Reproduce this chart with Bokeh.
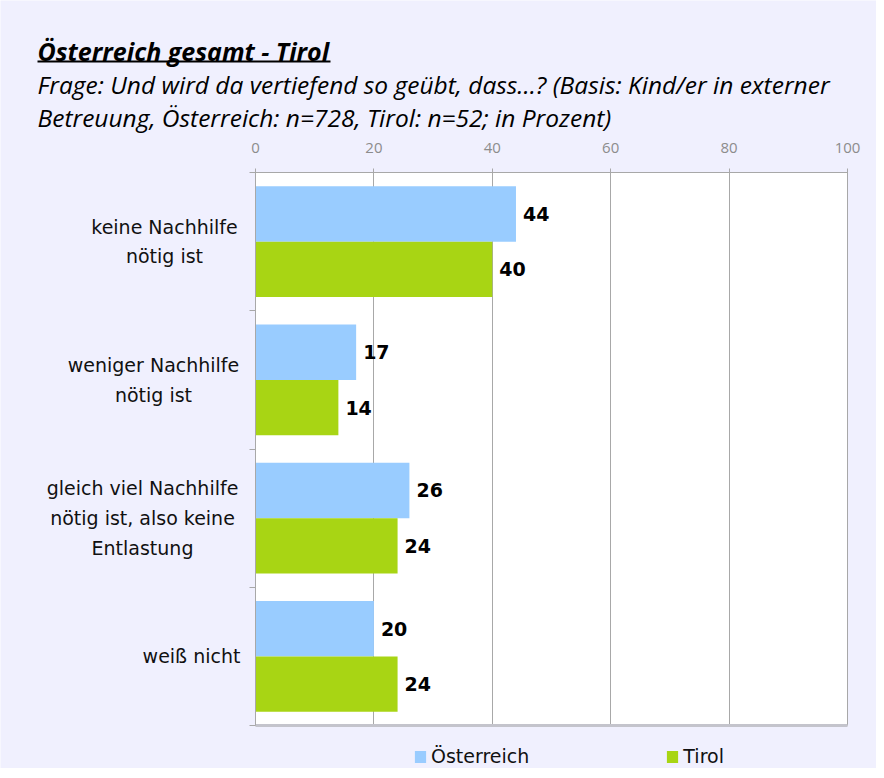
from bokeh.plotting import figure
from bokeh.models import (ColumnDataSource, Range1d, FixedTicker, Label, Legend,
                          LegendItem, BoxAnnotation, LinearAxis)
from bokeh.transform import dodge
from bokeh.core.properties import value
from bokeh.embed import file_html
from bokeh.resources import INLINE

# ---- data ----
categories = ["keine Nachhilfe\nnötig ist",
              "weniger Nachhilfe\nnötig ist",
              "gleich viel Nachhilfe\nnötig ist, also keine\nEntlastung",
              "weiß nicht"]
oesterreich = [44, 17, 26, 20]
tirol = [40, 14, 24, 24]
series_names = ["Österreich", "Tirol"]
x_ticks = [0, 20, 40, 60, 80, 100]
title_text = "Österreich gesamt - Tirol"
subtitle_lines = ["Frage: Und wird da vertiefend so geübt, dass...? (Basis: Kind/er in externer",
                  "Betreuung, Österreich: n=728, Tirol: n=52; in Prozent)"]

# ---- layout (pixels) ----
W, H = 876, 768
PL, PR, PT, PB = 255, 847, 172, 725          # plot area edges
label_center_dx = [-91, -102, -113, -64]      # category label centres, px left of axis
BASE_FIX = 9                                  # label baseline correction

BLUE = "#99CCFF"
GREEN = "#A8D514"
BG = "#F0F0FE"
GRID = "#A8A8A8"

n = len(categories)
xmax = x_ticks[-1]
kx = (PR - PL) / xmax
ky = (PB - PT) / n
x_range = Range1d(-PL / kx, xmax + (W - PR) / kx)
y_range = Range1d(-(H - PB) / ky, n + PT / ky)

ypos = [n - 1 - i + 0.5 for i in range(n)]
src = ColumnDataSource(dict(y=ypos, oe=oesterreich, ti=tirol,
                            oe_lbl=[str(v) for v in oesterreich],
                            ti_lbl=[str(v) for v in tirol]))
cat_src = ColumnDataSource(dict(y=ypos, cat=categories, dx=label_center_dx))

p = figure(width=W, height=H, output_backend="svg", toolbar_location=None,
           x_range=x_range, y_range=y_range, x_axis_location="above",
           min_border=0)
p.title_location = None
p.background_fill_color = BG
p.border_fill_color = BG
p.outline_line_color = None
p.xgrid.visible = False
p.ygrid.visible = False

# white plot area
p.add_layout(BoxAnnotation(left=0, right=xmax, bottom=0, top=n, fill_color="white",
                           fill_alpha=1, line_color=None, level="image"))

# x axis (top) - ticks run down through the plot area as gridlines
xa = p.xaxis[0]
xa.fixed_location = n
xa.bounds = (0, xmax)
xa.level = "underlay"
xa.ticker = FixedTicker(ticks=x_ticks)
xa.major_label_text_color = "#8C8C8C"
xa.major_label_text_font = "Open Sans"
xa.major_label_text_font_size = "15px"
xa.axis_line_color = GRID
xa.major_tick_line_color = GRID
xa.major_tick_out = 4
xa.major_tick_in = PB - PT
xa.minor_tick_line_color = None
xa.major_label_standoff = 16

# y axis (left): boundary ticks only
ya = p.yaxis[0]
ya.fixed_location = 0
ya.bounds = (0, n)
ya.ticker = FixedTicker(ticks=list(range(n + 1)))
ya.major_label_text_color = None
ya.axis_line_color = GRID
ya.major_tick_line_color = GRID
ya.major_tick_out = 6
ya.major_tick_in = 0
ya.minor_tick_line_color = None

# bottom edge
ba = LinearAxis(fixed_location=0, bounds=(0, xmax), ticker=FixedTicker(ticks=[]),
                axis_line_color="#C4C4CC", axis_line_width=3,
                major_label_text_color=None, major_tick_line_color=None,
                minor_tick_line_color=None)
p.add_layout(ba, "below")

# bars
r_oe = p.hbar(y=dodge("y", 0.2, range=p.y_range), left=0, right="oe", height=0.4,
              source=src, fill_color=BLUE, line_color=None)
r_ti = p.hbar(y=dodge("y", -0.2, range=p.y_range), left=0, right="ti", height=0.4,
              source=src, fill_color=GREEN, line_color=None)

# value labels
for col, lbl, off in (("oe", "oe_lbl", 0.2), ("ti", "ti_lbl", -0.2)):
    p.text(x=col, y=dodge("y", off, range=p.y_range), text=lbl, source=src,
           x_offset=7, text_align="left", text_baseline="middle",
           text_font=value("DejaVu Sans"), text_font_style="bold",
           text_font_size="19px", text_color="black")

# category labels
p.text(x=0, y="y", x_offset="dx", text="cat", source=cat_src,
       text_align="center", text_baseline="middle",
       text_font=value("DejaVu Sans"), text_font_size="19px",
       text_line_height=1.35, text_color="#111111")

# title + subtitle
TX = 37
p.add_layout(Label(x=TX, y=H - 59 + BASE_FIX, x_units="screen", y_units="screen",
                   text=title_text, text_font="Open Sans", text_font_style="bold italic",
                   text_font_size="25px", text_baseline="alphabetic", text_color="black"))
p.add_layout(BoxAnnotation(left=TX, right=330, bottom=H - 62, top=H - 60,
                           left_units="screen", right_units="screen",
                           bottom_units="screen", top_units="screen",
                           fill_color="black", fill_alpha=1, line_color=None))
for i, line in enumerate(subtitle_lines):
    p.add_layout(Label(x=TX, y=H - 93 - 33 * i + BASE_FIX, x_units="screen", y_units="screen",
                       text=line, text_font="Open Sans", text_font_style="italic",
                       text_font_size="24.5px", text_baseline="alphabetic",
                       text_color="black"))

# legend
legend = Legend(items=[LegendItem(label=series_names[0], renderers=[r_oe]),
                       LegendItem(label=series_names[1], renderers=[r_ti])],
                orientation="horizontal", location=(413, 1),
                glyph_width=14, glyph_height=15, label_standoff=4, spacing=136,
                padding=0, margin=0, border_line_color=None,
                background_fill_alpha=0,
                label_text_font="DejaVu Sans", label_text_font_size="19px",
                label_text_color="#111111")
p.add_layout(legend)

open("out.html", "w").write(file_html(p, INLINE))
